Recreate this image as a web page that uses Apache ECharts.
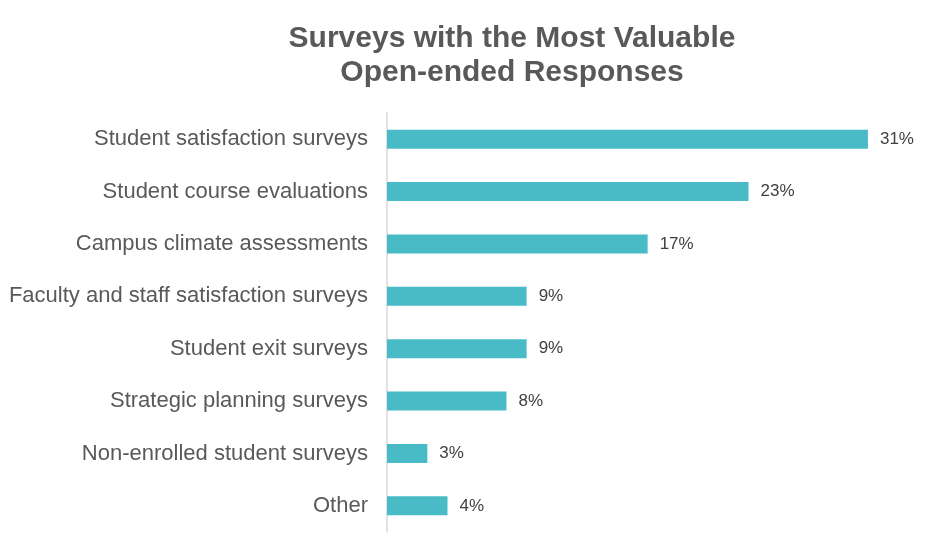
<!DOCTYPE html>
<html>
<head>
<meta charset="utf-8">
<script src="https://cdn.jsdelivr.net/npm/echarts@6/dist/echarts.min.js"></script>
<style>html,body{margin:0;padding:0;background:#fff;}#chart{width:943px;height:551px;}</style>
</head>
<body>
<div id="chart"></div>
<script>
const categories = [
  "Student satisfaction surveys",
  "Student course evaluations",
  "Campus climate assessments",
  "Faculty and staff satisfaction surveys",
  "Student exit surveys",
  "Strategic planning surveys",
  "Non-enrolled student surveys",
  "Other"
];
const values = [31, 23.3, 16.8, 9, 9, 7.7, 2.6, 3.9];
const titleText = "Surveys with the Most Valuable\nOpen-ended Responses";

const chart = echarts.init(document.getElementById('chart'));
chart.setOption({
  animation: false,
  backgroundColor: '#fff',
  title: {
    text: titleText,
    left: 507,
    textAlign: 'center',
    top: 17,
    textStyle: {
      fontFamily: 'Liberation Sans, Arial, sans-serif',
      fontSize: 30,
      fontWeight: 'bold',
      color: '#595959',
      lineHeight: 34
    }
  },
  grid: { left: 387, right: 13, top: 113, bottom: 19, containLabel: false },
  xAxis: {
    type: 'value', min: 0, max: 35, show: false
  },
  yAxis: {
    type: 'category',
    data: categories,
    inverse: true,
    axisLine: { show: true, lineStyle: { color: '#d9d9d9', width: 1.5 } },
    axisTick: { show: false },
    axisLabel: {
      margin: 19,
      fontFamily: 'Liberation Sans, Arial, sans-serif',
      fontSize: 22,
      color: '#595959',
      padding: [5, 0, 0, 0]
    }
  },
  series: [{
    type: 'bar',
    data: values,
    barWidth: 19,
    itemStyle: { color: '#48BBC6' },
    label: {
      show: true,
      position: 'right',
      distance: 12,
      fontFamily: 'Liberation Sans, Arial, sans-serif',
      fontSize: 17,
      color: '#404040',
      padding: [3, 0, 0, 0],
      formatter: p => Math.round(p.value) + '%'
    }
  }]
});
</script>
</body>
</html>
